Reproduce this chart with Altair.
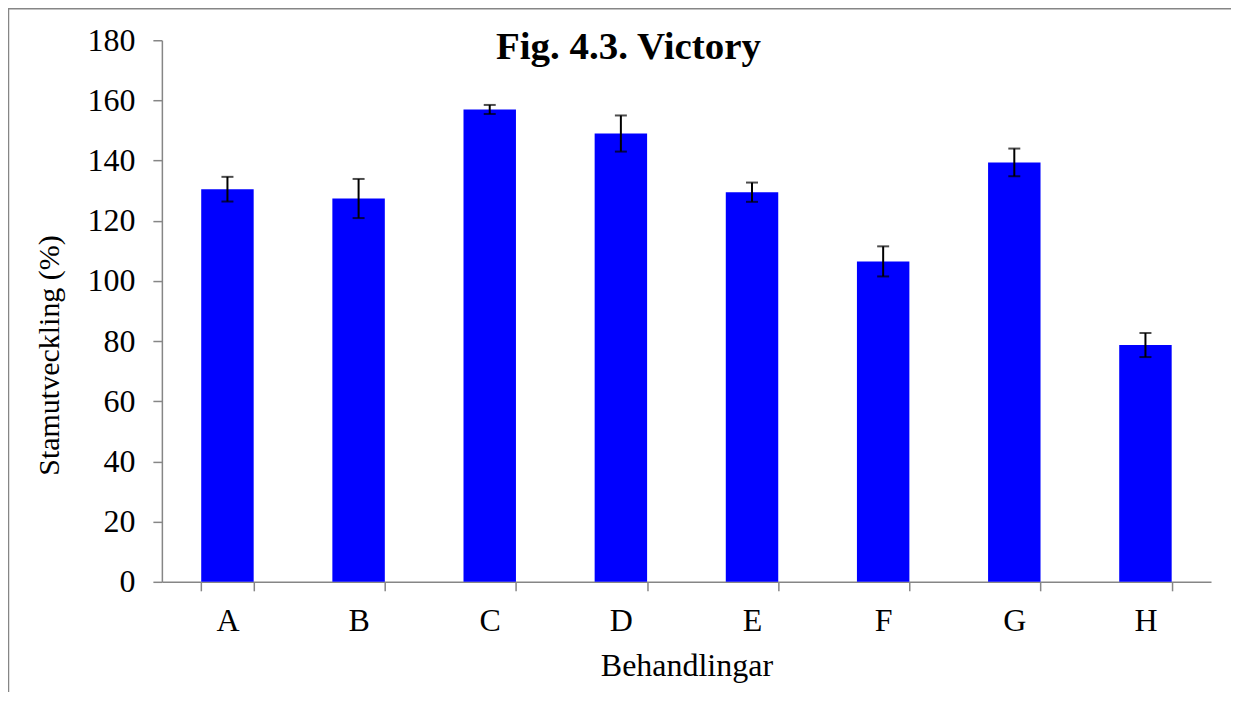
import altair as alt
import pandas as pd

# --- data ---
categories = ["A", "B", "C", "D", "E", "F", "G", "H"]
values = [130.5, 127.4, 157.0, 149.0, 129.5, 106.5, 139.4, 78.7]
errors = [4.1, 6.5, 1.5, 6.0, 3.2, 5.0, 4.6, 4.0]
y_ticks = [0, 20, 40, 60, 80, 100, 120, 140, 160, 180]
title_text = ["Fig. 4.3. Victory"]

df = pd.DataFrame({
    "Behandling": categories,
    "Värde": values,
    "lo": [v - e for v, e in zip(values, errors)],
    "hi": [v + e for v, e in zip(values, errors)],
})

FONT = "Liberation Serif"
GREY = "#868686"
W, H = 1050, 542

xscale = alt.Scale(paddingInner=0.6, paddingOuter=0.3)
yscale = alt.Scale(domain=[0, 180], nice=False)

x_ax = alt.Axis(
    title="Behandlingar", labelAngle=0, tickBand="extent",
    labelBaseline="alphabetic", labelPadding=40,
    titleFont=FONT, titleFontSize=32, titleFontWeight="normal",
    titleColor="black",
    titleBaseline="alphabetic", titleY=94,
)
y_ax = alt.Axis(
    values=y_ticks, grid=False, title="Stamutveckling (%)",
    labelPadding=18,
    titleFont=FONT, titleFontSize=30, titleFontWeight="normal",
    titleColor="black",
    titleAngle=270, titleBaseline="alphabetic",
    titleAlign="center", titleX=-103, titleY=315,
)

X = alt.X("Behandling:N", sort=categories, scale=xscale, axis=x_ax)

base = alt.Chart(df)

bars = base.mark_bar(color="#0000FF").encode(
    x=X, y=alt.Y("Värde:Q", scale=yscale, axis=y_ax)
)
err_lines = base.mark_rule(color="black", strokeWidth=2).encode(
    x=X, y=alt.Y("lo:Q", scale=yscale, axis=y_ax), y2="hi:Q"
)
cap_hi = base.mark_tick(color="black", size=12, thickness=2).encode(
    x=X, y=alt.Y("hi:Q", scale=yscale, axis=y_ax)
)
cap_lo = base.mark_tick(color="black", size=12, thickness=2).encode(
    x=X, y=alt.Y("lo:Q", scale=yscale, axis=y_ax)
)

title = alt.Chart(pd.DataFrame({"t": title_text})).mark_text(
    font=FONT, fontWeight="bold", fontSize=39, color="black",
    align="center", baseline="alphabetic",
).encode(text="t:N", x=alt.value(467), y=alt.value(19))

frame_top = alt.Chart(pd.DataFrame({"t": title_text})).mark_rule(
    color=GREY, strokeWidth=1.5
).encode(x=alt.value(-154), x2=alt.value(1080), y=alt.value(-31.5))
frame_left = alt.Chart(pd.DataFrame({"t": title_text})).mark_rule(
    color=GREY, strokeWidth=1.5
).encode(x=alt.value(-153.5), y=alt.value(-32), y2=alt.value(720))

chart = alt.layer(
    frame_top, frame_left, bars, err_lines, cap_hi, cap_lo, title
).properties(
    width=W, height=H,
    background="white",
    autosize=alt.AutoSizeParams(type="none"),
    padding={"left": 154, "top": 32, "right": 20, "bottom": 110},
).configure_view(
    stroke=None
).configure_axis(
    labelFont=FONT, labelFontSize=32, labelColor="black",
    titleFont=FONT, titleFontSize=30, titleFontWeight="normal",
    titleColor="black",
    domainColor=GREY, domainWidth=1.5, tickColor=GREY,
    tickWidth=1.5, tickSize=9,
)

chart.save("out.html", embed_options={"renderer": "svg", "actions": False})
